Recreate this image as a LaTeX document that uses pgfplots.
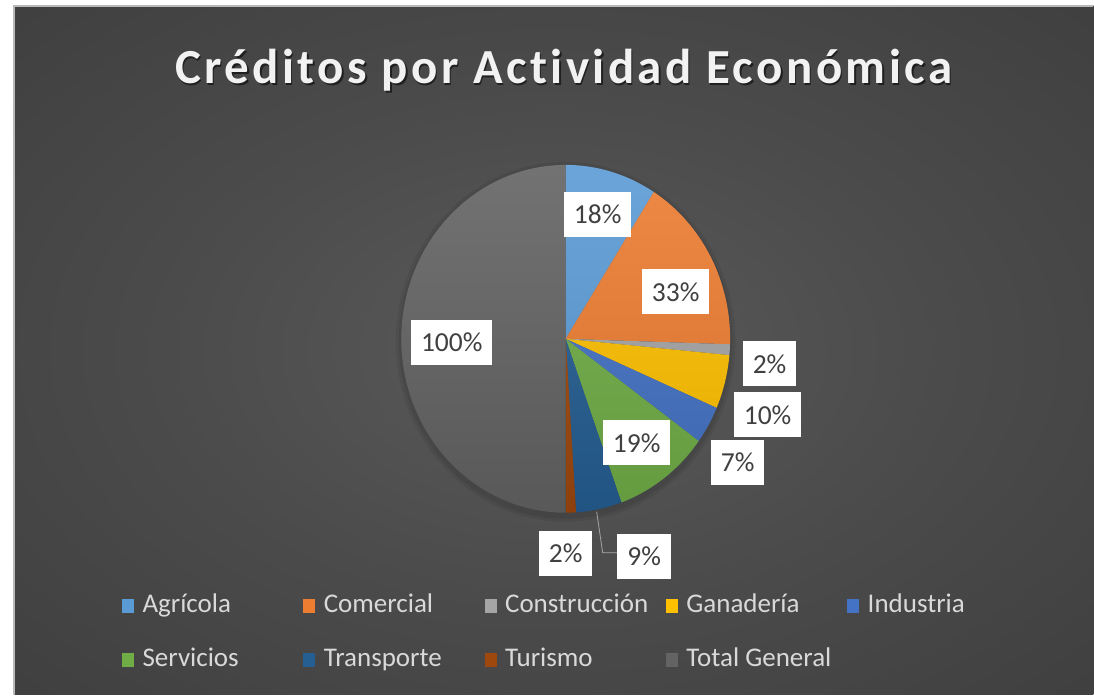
\documentclass[border=0pt]{standalone}
\usepackage{pgfplots}
\pgfplotsset{compat=1.18}
\usepackage{fontspec}
\setmainfont{Carlito}
\newfontfamily\titlefont[LetterSpace=7,Ligatures={NoCommon}]{Carlito}
\usetikzlibrary{calc}

\definecolor{agri}{HTML}{5B9BD5}
\definecolor{come}{HTML}{ED7D31}
\definecolor{cons}{HTML}{A5A5A5}
\definecolor{gana}{HTML}{FFC000}
\definecolor{indu}{HTML}{4472C4}
\definecolor{serv}{HTML}{70AD47}
\definecolor{tran}{HTML}{255E91}
\definecolor{turi}{HTML}{9E480E}
\definecolor{tota}{HTML}{636363}
\definecolor{legtext}{HTML}{D9D9D9}
\definecolor{labtext}{HTML}{404040}
\definecolor{titletext}{HTML}{F2F2F2}
\definecolor{bgA}{HTML}{5A5A5A}
\definecolor{bgB}{HTML}{4B4B4B}
\definecolor{bgC}{HTML}{363636}
\definecolor{bgD}{HTML}{282828}

\pgfdeclareradialshading{bgshade}{\pgfpoint{0bp}{0bp}}{color(0bp)=(bgA); color(18bp)=(bgB); color(50bp)=(bgC); color(72bp)=(bgD)}

% pie centre and radii (picture units: 1 unit = 1pt)
\def\cx{566}\def\cy{356}
\def\rx{164.5pt}\def\ry{174pt}
% slice: #1 cumulative value before, #2 value, #3 colour (total = 200)
\newcommand\slice[3]{%
  \fill[#3] (axis cs:\cx,\cy) -- ++({90-1.8*#1}:\rx\space and \ry)
    arc[start angle={90-1.8*#1}, end angle={90-1.8*(#1+#2)}, x radius=\rx, y radius=\ry] -- cycle;}

\begin{document}
\begin{tikzpicture}
\begin{axis}[
  scale only axis, width=1094pt, height=695pt,
  xmin=0, xmax=1094, ymin=0, ymax=695,
  hide axis, clip=false,
  legend columns=5,
  legend style={at={(axis cs:122,103)}, anchor=north west, draw=none, fill=none,
    text=legtext, font=\fontsize{27}{32}\selectfont,
    inner sep=0pt, column sep=9pt, row sep=27pt,
    nodes={inner sep=0pt, text height=21pt, text depth=6pt},
    cells={anchor=west}},
  legend image code/.code={\fill[#1] (0pt,-7pt) rectangle (11pt,6pt);},
]
% background
\fill[white] (axis cs:0,0) rectangle (axis cs:1094,695);
\shade[shading=bgshade] (axis cs:14,0) rectangle (axis cs:1094,689);
\draw[gray!55, line width=1.2pt] (axis cs:14,0) -- (axis cs:14,689) -- (axis cs:1094,689);

% title
\node[anchor=base, text=black, opacity=0.55] at (axis cs:565.5,609) {\titlefont\bfseries\fontsize{49}{56}\selectfont Créditos por Actividad Económica};
\node[anchor=base, text=titletext] at (axis cs:564,611) {\titlefont\bfseries\fontsize{49}{56}\selectfont Créditos por Actividad Económica};

% pie shadow
\fill[black, opacity=0.07] (axis cs:\cx,\cy-3) ellipse[x radius=170pt, y radius=180pt];
\fill[black, opacity=0.07] (axis cs:\cx,\cy-3) ellipse[x radius=167pt, y radius=177pt];

% slices (values in %)
\slice{0}{18}{agri}
\slice{18}{33}{come}
\slice{51}{2}{cons}
\slice{53}{10}{gana}
\slice{63}{7}{indu}
\slice{70}{19}{serv}
\slice{89}{9}{tran}
\slice{98}{2}{turi}
\slice{100}{100}{tota}
% soft vertical gradient over the pie
\shade[top color=white, bottom color=black, opacity=0.10] (axis cs:\cx,\cy) ellipse[x radius=\rx, y radius=\ry];

% leader line for 9%
\draw[gray!70, line width=0.8pt] (axis cs:597,183) -- (axis cs:603,142) -- (axis cs:618,142);

% data labels
\tikzset{lab/.style={fill=white, text=labtext, inner xsep=10pt, inner ysep=0pt, minimum height=45pt, font=\fontsize{27.5}{32}\selectfont}}
\node[lab] at (axis cs:598,480.5) {18\%};
\node[lab] at (axis cs:676,403) {33\%};
\node[lab] at (axis cs:770,331) {2\%};
\node[lab] at (axis cs:768,280) {10\%};
\node[lab] at (axis cs:738,232.5) {7\%};
\node[lab] at (axis cs:637,252) {19\%};
\node[lab] at (axis cs:644.5,138.3) {9\%};
\node[lab] at (axis cs:566,141) {2\%};
\node[lab] at (axis cs:452,352.5) {100\%};

% legend
\addlegendimage{agri}\addlegendentry{\makebox[152pt][l]{Agrícola}}
\addlegendimage{come}\addlegendentry{\makebox[152pt][l]{Comercial}}
\addlegendimage{cons}\addlegendentry{\makebox[152pt][l]{Construcción}}
\addlegendimage{gana}\addlegendentry{\makebox[152pt][l]{Ganadería}}
\addlegendimage{indu}\addlegendentry{\makebox[152pt][l]{Industria}}
\addlegendimage{serv}\addlegendentry{\makebox[152pt][l]{Servicios}}
\addlegendimage{tran}\addlegendentry{\makebox[152pt][l]{Transporte}}
\addlegendimage{turi}\addlegendentry{\makebox[152pt][l]{Turismo}}
\addlegendimage{tota}\addlegendentry{\makebox[152pt][l]{Total General}}
\end{axis}
\end{tikzpicture}
\end{document}
